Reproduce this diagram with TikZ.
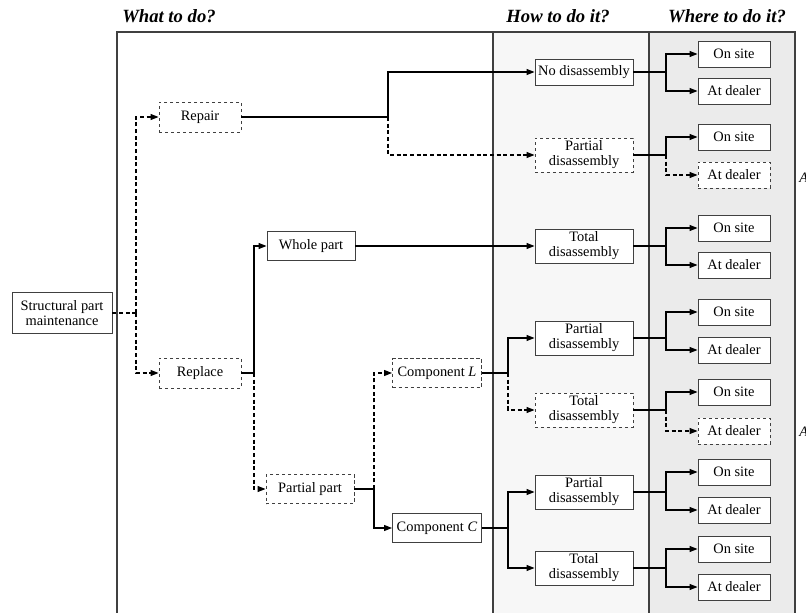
\documentclass[tikz,border=0pt]{standalone}
\usepackage{fontspec}
\setmainfont{Liberation Serif}
\usetikzlibrary{arrows.meta}
\definecolor{colA}{gray}{0.97}
\definecolor{colB}{gray}{0.92}
\definecolor{edge}{gray}{0.25}
\tikzset{
  box/.style={draw=edge, line width=0.7pt, fill=white, inner sep=0pt, align=center,
    font=\fontsize{10.8}{11.2}\selectfont},
  dbox/.style={box, dashed, dash pattern=on 2.6pt off 1.9pt},
  mainbox/.style={box, minimum width=75pt, minimum height=30.75pt},
  actbox/.style={minimum width=61.5pt, minimum height=22.5pt},
  partbox/.style={minimum width=66pt, minimum height=21.75pt},
  compbox/.style={minimum width=66.75pt, minimum height=21.75pt},
  onebox/.style={minimum width=73.5pt, minimum height=19.5pt},
  twobox/.style={minimum width=73.5pt, minimum height=25.5pt},
  wherebox/.style={minimum width=54pt, minimum height=19.5pt},
  sl/.style={line width=0.8pt, black},
  dl/.style={line width=0.8pt, black, dash pattern=on 3pt off 2pt},
  arr/.style={-{Triangle[length=6pt,width=4.5pt]}},
  head/.style={font=\fontsize{14}{16}\selectfont\bfseries\itshape, inner sep=0pt},
  cut/.style={font=\fontsize{10.8}{11.2}\selectfont\itshape, inner sep=0pt, anchor=west},
}
\begin{document}
\begin{tikzpicture}[x=0.75pt,y=-0.75pt]
\useasboundingbox (0,0) rectangle (806,612);
% columns
\fill[colA] (493,32) rectangle (649,614);
\fill[colB] (649,32) rectangle (795,614);
\draw[edge, line width=0.8pt] (117,614) -- (117,32) -- (795,32) -- (795,614);
\draw[edge, line width=0.8pt] (493,32) -- (493,614);
\draw[edge, line width=0.8pt] (649,32) -- (649,614);
% headings
\node[head] (h1) at (169,16) {What to do?};
\node[head] (h2) at (558,16) {How to do it?};
\node[head] (h3) at (727,16) {Where to do it?};
% cut-off labels at the right edge
\node[cut] (c1) at (799,178) {A};
\node[cut] (c2) at (799,432) {A};
% what to do
\node[mainbox] (spm) at (62,313) {Structural part\\maintenance};
\node[dbox, actbox] (repair) at (200,117) {Repair};
\node[dbox, actbox] (replace) at (200,373) {Replace};
\node[box, partbox] (whole) at (311,246) {Whole part};
\node[dbox, partbox] (ppart) at (310,489) {Partial part};
\node[dbox, compbox] (compL) at (437,373) {Component \textit{L}};
\node[box, compbox] (compC) at (437,528) {Component \textit{C}};
% how to do it
\node[box, onebox] (nodis) at (584,72) {No disassembly};
\node[dbox, twobox] (pd1) at (584,155) {Partial\\disassembly};
\node[box, twobox] (td1) at (584,246) {Total\\disassembly};
\node[box, twobox] (pd2) at (584,338) {Partial\\disassembly};
\node[dbox, twobox] (td2) at (584,410) {Total\\disassembly};
\node[box, twobox] (pd3) at (584,492) {Partial\\disassembly};
\node[box, twobox] (td3) at (584,568) {Total\\disassembly};
% where to do it
\node[box, wherebox] (on1) at (734,54) {On site};
\node[box, wherebox] (at1) at (734,91) {At dealer};
\node[box, wherebox] (on2) at (734,137) {On site};
\node[dbox, wherebox] (at2) at (734,175) {At dealer};
\node[box, wherebox] (on3) at (734,228) {On site};
\node[box, wherebox] (at3) at (734,265) {At dealer};
\node[box, wherebox] (on4) at (734,312) {On site};
\node[box, wherebox] (at4) at (734,350) {At dealer};
\node[box, wherebox] (on5) at (734,392) {On site};
\node[dbox, wherebox] (at5) at (734,431) {At dealer};
\node[box, wherebox] (on6) at (734,472) {On site};
\node[box, wherebox] (at6) at (734,510) {At dealer};
\node[box, wherebox] (on7) at (734,549) {On site};
\node[box, wherebox] (at7) at (734,587) {At dealer};
% branch points
\coordinate (b0) at (136,313);
\coordinate (b1) at (388,117);
\coordinate (b2) at (254,373);
\coordinate (b3) at (374,489);
\coordinate (b4) at (508,373);
\coordinate (b5) at (508,528);
\coordinate (w1) at (666,72);
\coordinate (w2) at (666,155);
\coordinate (w3) at (666,246);
\coordinate (w4) at (666,338);
\coordinate (w5) at (666,410);
\coordinate (w6) at (666,492);
\coordinate (w7) at (666,568);
% connectors: what
\draw[dl] (spm.east) -- (b0);
\draw[dl,arr] (b0) |- (repair.west);
\draw[dl,arr] (b0) |- (replace.west);
\draw[sl] (repair.east) -- (b1);
\draw[sl,arr] (b1) |- (nodis.west);
\draw[dl,arr] (b1) |- (pd1.west);
\draw[sl] (replace.east) -- (b2);
\draw[sl,arr] (b2) |- (whole.west);
\draw[dl,arr] (b2) |- (ppart.west);
\draw[sl,arr] (whole.east) -- (td1.west);
\draw[sl] (ppart.east) -- (b3);
\draw[dl,arr] (b3) |- (compL.west);
\draw[sl,arr] (b3) |- (compC.west);
\draw[sl] (compL.east) -- (b4);
\draw[sl,arr] (b4) |- (pd2.west);
\draw[dl,arr] (b4) |- (td2.west);
\draw[sl] (compC.east) -- (b5);
\draw[sl,arr] (b5) |- (pd3.west);
\draw[sl,arr] (b5) |- (td3.west);
% connectors: where
\draw[sl] (nodis.east) -- (w1);
\draw[sl,arr] (w1) |- (on1.west);
\draw[sl,arr] (w1) |- (at1.west);
\draw[sl] (pd1.east) -- (w2);
\draw[sl,arr] (w2) |- (on2.west);
\draw[dl,arr] (w2) |- (at2.west);
\draw[sl] (td1.east) -- (w3);
\draw[sl,arr] (w3) |- (on3.west);
\draw[sl,arr] (w3) |- (at3.west);
\draw[sl] (pd2.east) -- (w4);
\draw[sl,arr] (w4) |- (on4.west);
\draw[sl,arr] (w4) |- (at4.west);
\draw[sl] (td2.east) -- (w5);
\draw[sl,arr] (w5) |- (on5.west);
\draw[dl,arr] (w5) |- (at5.west);
\draw[sl] (pd3.east) -- (w6);
\draw[sl,arr] (w6) |- (on6.west);
\draw[sl,arr] (w6) |- (at6.west);
\draw[sl] (td3.east) -- (w7);
\draw[sl,arr] (w7) |- (on7.west);
\draw[sl,arr] (w7) |- (at7.west);
\end{tikzpicture}
\end{document}
